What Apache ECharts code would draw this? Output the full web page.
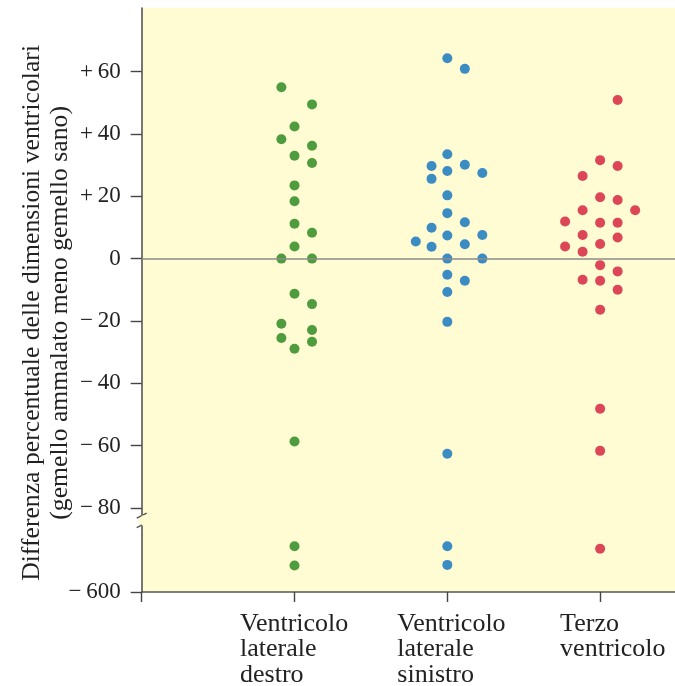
<!DOCTYPE html>
<html><head><meta charset="utf-8">
<script src="https://cdn.jsdelivr.net/npm/echarts@6.0.0/dist/echarts.min.js"></script>
<style>html,body{margin:0;padding:0;background:#fff}#c{width:675px;height:686px}</style>
</head><body><div id="c"></div>
<script>
const categories = ['Ventricolo\nlaterale\ndestro', 'Ventricolo\nlaterale\nsinistro', 'Terzo\nventricolo'];
const yTickValues = [60, 40, 20, 0, -20, -40, -60, -80, -600];
const yTickLabels = ['+\u200960', '+\u200940', '+\u200920', '0', '\u2212\u200920', '\u2212\u200940', '\u2212\u200960', '\u2212\u200980', '\u2212\u2009600'];
const yAxisTitle = ['Differenza percentuale delle dimensioni ventricolari', '(gemello ammalato meno gemello sano)'];

// values (percent) and beeswarm lane of each point
const destroValues = [55, 49.5, 42.4, 38.3, 36.2, 33, 30.7, 23.5, 18.4, 11.2, 8.3, 3.9, 0, 0, -11.3, -14.6, -20.9, -22.9, -25.5, -26.7, -28.9, -58.7, -585.3, -591.5];
const destroLanes = [-0.75, 1, 0, -0.75, 1, 0, 1, 0, 0, 0, 1, 0, -0.75, 1, 0, 1, -0.75, 1, -0.75, 1, 0, 0, 0, 0];
const sinistroValues = [64.3, 60.9, 33.5, 29.7, 30.1, 28.1, 27.5, 25.6, 20.3, 14.6, 9.9, 11.7, 5.5, 7.4, 7.6, 3.8, 4.6, 0, 0, -5.2, -7.1, -10.7, -20.3, -62.6, -585.3, -591.3];
const sinistroLanes = [0, 1, 0, -0.9, 1, 0, 2, -0.9, 0, 0, -0.9, 1, -1.8, 0, 2, -0.9, 1, 0, 2, 0, 1, 0, 0, 0, 0, 0];
const terzoValues = [50.9, 31.6, 29.7, 26.5, 19.7, 18.8, 15.5, 15.5, 11.9, 11.5, 11.5, 7.6, 6.8, 3.9, 4.7, 2.2, -2.1, -4.1, -6.8, -7.1, -10, -16.4, -48.2, -61.7, -586.1];
const terzoLanes = [1, 0, 1, -1, 0, 1, -1, 2, -2, 0, 1, -1, 1, -2, 0, -1, 0, 1, -1, 0, 1, 0, 0, 0, 0];

const chart = echarts.init(document.getElementById('c'), null, {renderer: 'canvas'});
const BG = '#fffbd2';
const FONT = 'Liberation Serif';
const TXT = '#222';
const LANE = 17.5 / 152.7;
function pts(cat, vals, lanes) { return vals.map((v, i) => [cat + 1 + lanes[i] * LANE, v]); }
const catWidths = [109, 100, 80];
const rich = {};
catWidths.forEach((w, i) => { rich['c' + i] = {width: w, align: 'left', fontFamily: FONT, fontSize: 26, lineHeight: 25.5, color: TXT}; });

const option = {
  animation: false,
  backgroundColor: '#ffffff',
  grid: {left: 141.7, right: 0, top: 7.8, bottom: 94, show: true, backgroundColor: BG, borderWidth: 0, outerBoundsMode: 'none', containLabel: false},
  xAxis: {
    type: 'value', min: 0, max: 3.49, position: 'bottom',
    axisLine: {show: true, onZero: false, lineStyle: {color: '#555', width: 1.6}},
    axisTick: {show: true, customValues: [0, 1, 2, 3], length: 10, lineStyle: {color: '#444', width: 1.4}},
    axisLabel: {customValues: [1, 2, 3], margin: 19, formatter: v => {
      const i = Math.round(v) - 1; if (i < 0 || i > 2) return '';
      return categories[i].split('\n').map(s => '{c' + i + '|' + s + '}').join('\n');
    }, rich: rich},
    splitLine: {show: false}
  },
  yAxis: {
    type: 'value', min: -600, max: 80.5,
    breaks: [{start: -578.5, end: -82.5, gap: 3}],
    breakArea: {show: true, itemStyle: {color: BG, borderColor: BG, borderWidth: 0, opacity: 1}, zigzagAmplitude: 0},
    axisLine: {show: true, onZero: false, lineStyle: {color: '#555', width: 1.6}},
    axisTick: {show: true, customValues: yTickValues, length: 11, lineStyle: {color: '#444', width: 1.4}},
    axisLabel: {customValues: yTickValues, margin: 21, fontFamily: FONT, fontSize: 23, color: TXT,
      formatter: v => { const k = yTickValues.indexOf(v); return k >= 0 ? yTickLabels[k] : ''; }},
    splitLine: {show: false},
    name: yAxisTitle.join('\n'), nameLocation: 'middle', nameGap: 67, nameMoveOverlap: false,
    nameTextStyle: {fontFamily: FONT, fontSize: 25.7, lineHeight: 28, color: TXT, padding: [0, 26, 0, 0]}
  },
  series: [
    {type: 'scatter', data: [], z: 1, silent: true,
     markLine: {silent: true, symbol: ['none', 'none'], label: {show: false}, animation: false,
       lineStyle: {color: '#8c8c8c', width: 1.6, type: 'solid'}, data: [{yAxis: 0}]}},
    {type: 'scatter', z: 3, symbolSize: 10, itemStyle: {color: '#4f9c3f', opacity: 1}, data: pts(0, destroValues, destroLanes)},
    {type: 'scatter', z: 3, symbolSize: 10, itemStyle: {color: '#3c8cc4', opacity: 1}, data: pts(1, sinistroValues, sinistroLanes)},
    {type: 'scatter', z: 3, symbolSize: 10, itemStyle: {color: '#dc4656', opacity: 1}, data: pts(2, terzoValues, terzoLanes)}
  ]
};
chart.setOption(option);

const pA = chart.convertToPixel({xAxisIndex: 0, yAxisIndex: 0}, [0, -82.5]);
const pB = chart.convertToPixel({xAxisIndex: 0, yAxisIndex: 0}, [0, -578.5]);
if (pA && pB) {
  chart.setOption({graphic: [
    {type: 'rect', z: 50, shape: {x: pA[0] - 3, y: pA[1], width: 6, height: pB[1] - pA[1]}, style: {fill: BG}},
    {type: 'line', z: 51, shape: {x1: pA[0] - 5, y1: pA[1] + 2.5, x2: pA[0] + 5, y2: pA[1] - 2.5}, style: {stroke: '#555', lineWidth: 1.4}},
    {type: 'line', z: 51, shape: {x1: pB[0] - 5, y1: pB[1] + 2.5, x2: pB[0] + 5, y2: pB[1] - 2.5}, style: {stroke: '#555', lineWidth: 1.4}}
  ]});
}
</script></body></html>
